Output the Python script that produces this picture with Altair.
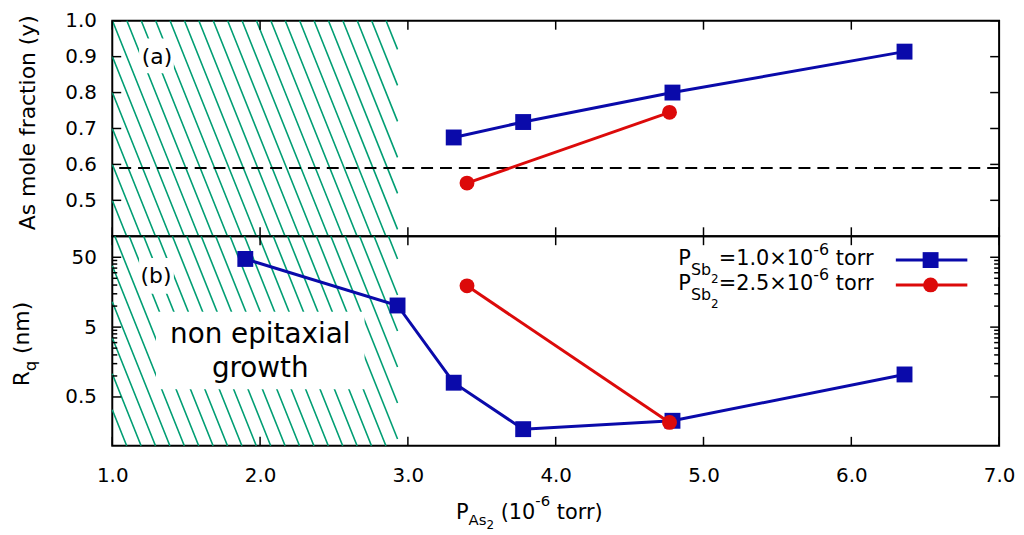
import pandas as pd
import altair as alt

FONT = "DejaVu Sans"
BLUE = "#0a0aaa"
RED = "#dc0a0a"
HATCH = "#009e73"

# ---- data ----
# (a) As mole fraction vs P_As2
pas_sb10_a = [3.31, 3.78, 4.79, 6.36]
y_sb10 = [0.675, 0.718, 0.800, 0.914]
pas_sb25_a = [3.40, 4.77]
y_sb25 = [0.548, 0.745]
y_dashed = 0.59

# (b) roughness Rq vs P_As2
pas_sb10_b = [1.90, 2.93, 3.31, 3.78, 4.79, 6.36]
rq_sb10 = [47.3, 10.2, 0.80, 0.173, 0.228, 1.05]
pas_sb25_b = [3.40, 4.77]
rq_sb25 = [19.5, 0.216]

non_epi_limit = 2.93  # end of the hatched "non epitaxial growth" zone

x_ticks = [1, 2, 3, 4, 5, 6, 7]
y_ticks_a = [0.5, 0.6, 0.7, 0.8, 0.9, 1.0]
rq_major = [0.5, 5, 50]
rq_minor = [1, 1.5, 2, 2.5, 3, 3.5, 4, 4.5, 10, 15, 20, 25, 30, 35, 40, 45]

# ---- layout ----
W, H1, H2 = 893, 217, 211
one = pd.DataFrame({"k": [0]})

XS = alt.Scale(domain=[1, 7], nice=False, zero=False)
X_A = alt.X("x:Q", scale=XS, axis=None)
X_B = alt.X("x:Q", scale=XS, axis=alt.Axis(values=x_ticks, format=".1f", ticks=False, tickSize=0,
                                           domain=False, grid=False, labelPadding=20,
                                           labelFlush=False, title=None))
Y_A = alt.Y("y:Q", scale=alt.Scale(domain=[0.4, 1.0], nice=False, zero=False),
            axis=alt.Axis(values=y_ticks_a, format=".1f", ticks=False, tickSize=0, domain=False,
                          grid=False, labelPadding=16, labelFlush=False, title=None))
Y_B = alt.Y("y:Q", scale=alt.Scale(type="log", domain=[0.1, 100], nice=False),
            axis=alt.Axis(values=rq_major, format="~g", ticks=False, tickSize=0, domain=False,
                          grid=False, labelPadding=16, labelFlush=False, title=None))


def hatch(h, to_y):
    # diagonal hatching of the non epitaxial zone, built in pixel space
    xr = (non_epi_limit - 1.0) / 6.0 * W
    rows = []
    c = -0.4 * h
    while c < xr:
        ya = max(0.0, -c / 0.4)
        yb = min(h, (xr - c) / 0.4)
        if yb > ya:
            rows.append({"x": 1 + (c + 0.4 * ya) * 6 / W, "y": to_y(ya),
                         "x2": 1 + (c + 0.4 * yb) * 6 / W, "y2": to_y(yb)})
        c += 14.5
    return pd.DataFrame(rows)


EM = {" ": 0.318, "P": 0.603, "S": 0.635, "b": 0.635, "A": 0.684, "s": 0.521, "R": 0.695,
      "q": 0.635, "=": 0.838, "×": 0.838, ".": 0.318, "-": 0.361, "(": 0.390, ")": 0.390,
      "t": 0.392, "o": 0.612, "r": 0.411, "n": 0.634, "m": 0.974, "l": 0.278, "e": 0.615,
      "f": 0.352, "a": 0.613, "c": 0.550, "i": 0.278, "y": 0.592}


def tw(s, size):
    return sum(EM.get(ch, 0.636) for ch in s) * size


def rich(parts, x0, y0, up=False):
    # text with sub/superscripts, one text mark per piece
    out = []
    pos = 0.0
    for txt, size, shift in parts:
        s = txt.strip()
        lead = tw(txt[: len(txt) - len(txt.lstrip())], size)
        if up:
            x, y, ang = x0 + shift, y0 - pos - lead, 270
        else:
            x, y, ang = x0 + pos + lead, y0 + shift, 0
        out.append(alt.Chart(one).mark_text(text=s, font=FONT, fontSize=size, align="left",
                                            baseline="alphabetic", color="black", angle=ang)
                   .encode(x=alt.value(x), y=alt.value(y)))
        pos += tw(txt, size)
    return out


def ticks_x(h):
    d = pd.DataFrame({"x": x_ticks})
    X = X_B if h == H2 else X_A
    top = alt.Chart(d).mark_rule(color="black", strokeWidth=1.5).encode(
        x=X, y=alt.value(0), y2=alt.value(9))
    bot = alt.Chart(d).mark_rule(color="black", strokeWidth=1.5).encode(
        x=X, y=alt.value(h), y2=alt.value(h - 9))
    return [top, bot]


def ticks_y(vals, Y, size):
    d = pd.DataFrame({"y": vals})
    left = alt.Chart(d).mark_rule(color="black", strokeWidth=1.5).encode(
        y=Y, x=alt.value(0), x2=alt.value(size))
    right = alt.Chart(d).mark_rule(color="black", strokeWidth=1.5).encode(
        y=Y, x=alt.value(W - size), x2=alt.value(W))
    return [left, right]


def box(x1, x2, y1, y2):
    return alt.Chart(one).mark_rect(color="white").encode(
        x=alt.value(x1), x2=alt.value(x2), y=alt.value(y1), y2=alt.value(y2))


def label(txt, x, y, size):
    return alt.Chart(one).mark_text(text=txt, font=FONT, fontSize=size, align="center",
                                    baseline="alphabetic", color="black").encode(
        x=alt.value(x), y=alt.value(y))


def series(xs, ys, X, Y, color, shape, size):
    d = pd.DataFrame({"x": xs, "y": ys})
    line = alt.Chart(d).mark_line(color=color, strokeWidth=3).encode(x=X, y=Y)
    pts = alt.Chart(d).mark_point(shape=shape, filled=True, size=size, color=color,
                                  opacity=1).encode(x=X, y=Y)
    return [line, pts]


# ---- panel (a) ----
hatch_a = alt.Chart(hatch(H1, lambda py: 1.0 - py * 0.6 / H1)).mark_rule(
    color=HATCH, strokeWidth=1.6).encode(x=X_A, y=Y_A, x2="x2:Q", y2="y2:Q")
dashed = alt.Chart(pd.DataFrame({"y": [y_dashed]})).mark_rule(
    color="black", strokeWidth=2, strokeDash=[12, 7]).encode(y=Y_A)
anchor = alt.Chart(one).mark_rule(color="white", strokeWidth=1).encode(
    x=alt.value(-103), y=alt.value(100), y2=alt.value(101))

layers_a = [hatch_a, box(27, 62, 18, 53), label("(a)", 45, 44, 22), dashed]
layers_a += ticks_x(H1) + ticks_y(y_ticks_a, Y_A, 9)
layers_a += series(pas_sb10_a, y_sb10, X_A, Y_A, BLUE, "square", 256)
layers_a += series(pas_sb25_a, y_sb25, X_A, Y_A, RED, "circle", 225)
layers_a += rich([("As mole fraction (y)", 22, 0)], -78, 211, up=True)
layers_a.append(anchor)
panel_a = alt.layer(*layers_a).properties(width=W, height=H1)

# ---- panel (b) ----
hatch_b = alt.Chart(hatch(H2, lambda py: 10 ** (2 - py * 3 / H2))).mark_rule(
    color=HATCH, strokeWidth=1.6).encode(x=X_B, y=Y_B, x2="x2:Q", y2="y2:Q")

layers_b = [hatch_b, box(27, 62, 22, 58), label("(b)", 44, 47, 22),
            box(44, 254, 76, 154), label("non epitaxial", 149, 107, 28),
            label("growth", 149, 142, 28)]
layers_b += ticks_x(H2) + ticks_y(rq_major, Y_B, 9) + ticks_y(rq_minor, Y_B, 5)
layers_b += series(pas_sb10_b, rq_sb10, X_B, Y_B, BLUE, "square", 256)
layers_b += series(pas_sb25_b, rq_sb25, X_B, Y_B, RED, "circle", 225)

# legend drawn by hand (sub/superscripts)
for row, (val, color, shape, size) in enumerate([("1.0", BLUE, "square", 256),
                                                  ("2.5", RED, "circle", 225)]):
    ly = 24 + 25 * row
    layers_b += rich([("P", 21, 0), ("Sb", 16, 10), ("2", 12, 18),
                      ("=" + val + "×10", 21, 0), ("-6", 16, -10), (" torr", 21, 0)],
                     570, ly + 5)
    layers_b.append(alt.Chart(one).mark_rule(color=color, strokeWidth=3).encode(
        x=alt.value(789), x2=alt.value(861), y=alt.value(ly)))
    layers_b.append(alt.Chart(one).mark_point(shape=shape, filled=True, size=size,
                                               color=color, opacity=1).encode(
        x=alt.value(824), y=alt.value(ly)))

# axis titles
layers_b += rich([("R", 22, 0), ("q", 16, 7), (" (nm)", 22, 0)], -84, 151, up=True)
layers_b += rich([("P", 21, 0), ("As", 15, 6), ("2", 12, 10), (" (10", 21, 0),
                  ("-6", 15, -13), (" torr)", 21, 0)], 346, 285)
panel_b = alt.layer(*layers_b).properties(width=W, height=H2)

chart = alt.vconcat(panel_a, panel_b, spacing=0, bounds="flush").properties(
    padding=0
).configure_view(stroke="black", strokeWidth=2).configure_axis(
    labelFont=FONT, labelFontSize=20, labelColor="black"
)

chart.save("out.html", embed_options={"renderer": "svg", "actions": False})
